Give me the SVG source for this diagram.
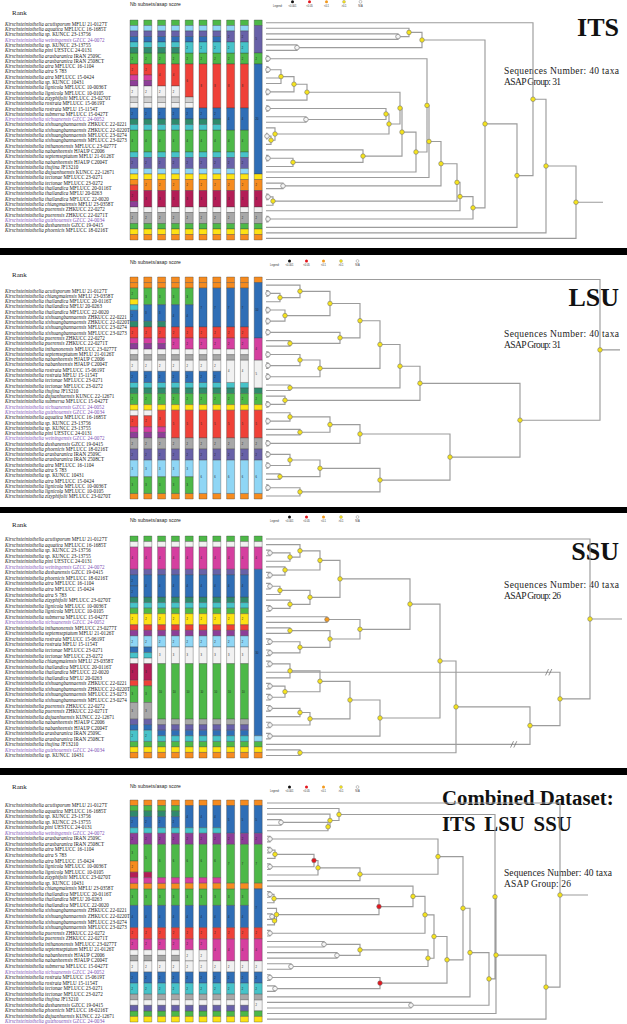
<svg xmlns="http://www.w3.org/2000/svg" xmlns:xlink="http://www.w3.org/1999/xlink" width="627" height="1024" viewBox="0 0 627 1024">
<style>
.t{font-family:"Liberation Serif",serif;font-size:5.1px;font-style:italic;fill:#1a1a1a}
.n{font-style:normal}
.pu{fill:#7d4fb5}
.rk{font-family:"Liberation Serif",serif;font-size:7px;fill:#222}
.nb{font-family:"Liberation Sans",sans-serif;font-size:5px;fill:#222}
.ti{font-family:"Liberation Serif",serif;font-weight:bold;fill:#111}
.sq{font-family:"Liberation Serif",serif;font-size:9.5px;fill:#222}
.lg{font-family:"Liberation Sans",sans-serif;font-size:2.6px;fill:#333}
.br{fill:none;stroke:#9c9c9c;stroke-width:1.15}
.bk{fill:none;stroke:#666;stroke-width:.7}
.ny{fill:#f6e41c;stroke:#6f6f6f;stroke-width:.55}
.ng{fill:#f4f4f4;stroke:#8a8a8a;stroke-width:.8}
.nr{fill:#e3161d;stroke:#6f6f6f;stroke-width:.55}
.no{fill:#f39a1e;stroke:#6f6f6f;stroke-width:.55}
.G,.LB,.SL,.B,.C,.T,.R,.M,.P,.W,.LG,.GR,.O,.Y,.CR{stroke:#3d3d3d;stroke-width:.35;vector-effect:non-scaling-stroke}
.G{fill:#4db848}.LB{fill:#8fd6f5}.SL{fill:#6861a8}.B{fill:#2f6eb6}.C{fill:#47c3c9}.T{fill:#2f8a6c}.R{fill:#ef4138}.M{fill:#d53f9f}.P{fill:#8d3e98}.W{fill:#f1f1f1}.LG{fill:#d2d2d2}.GR{fill:#a8a8a8}.O{fill:#f68b1f}.Y{fill:#fde214}.CR{fill:#b31d56}
.nm{font-family:"Liberation Sans",sans-serif;font-size:2.6px;fill:#222}
</style>
<defs>
<circle id="ny" r="2.3" class="ny"/>
<circle id="ng" r="2.3" class="ng"/>
<circle id="nr" r="2.3" class="nr"/>
<circle id="no" r="2.3" class="no"/>
<g id="legend">
<text class="lg" x="0" y="5.2">Legend:</text>
<circle cx="19.5" cy="0" r="1.5" fill="#111"/><text class="lg" x="19.5" y="5.2" text-anchor="middle">&lt;0.001</text>
<circle cx="36.5" cy="0" r="1.5" fill="#e3161d"/><text class="lg" x="36.5" y="5.2" text-anchor="middle">&lt;0.05</text>
<circle cx="53.5" cy="0" r="1.5" fill="#f39a1e"/><text class="lg" x="53.5" y="5.2" text-anchor="middle">&lt;0.1</text>
<circle cx="71" cy="0" r="1.5" fill="#f6e41c" stroke="#777" stroke-width=".3"/><text class="lg" x="71" y="5.2" text-anchor="middle">&gt;0.1</text>
<circle cx="87.5" cy="0" r="1.4" fill="#fff" stroke="#888" stroke-width=".5"/><text class="lg" x="87.5" y="5.2" text-anchor="middle">N/A</text>
</g>
<!-- ITS columns -->
<g id="ib2"><rect y="28" height="1" width="8" class="Y"/><rect y="29" height="2" width="8" class="O"/><rect y="31" height="3" width="8" class="CR"/><rect y="34" height="1" width="8" class="W"/><rect y="35" height="2" width="8" class="GR"/><rect y="37" height="1" width="8" class="G"/><rect y="38" height="1" width="8" class="Y"/><rect y="39" height="1" width="8" class="O"/>
<text class="nm" transform="translate(1.4,30.2) scale(1,.18)">2</text><text class="nm" transform="translate(1.4,32.7) scale(1,.18)">3</text><text class="nm" transform="translate(1.4,36.2) scale(1,.18)">2</text></g>
<g id="ib"><rect y="24" height="1" width="8" class="C"/><rect y="25" height="2" width="8" class="SL"/><rect y="27" height="1" width="8" class="LB"/><text class="nm" transform="translate(1.4,26.2) scale(1,.18)">2</text><use href="#ib2"/></g>
<g id="it"><rect y="0" height="1" width="8" class="G"/><rect y="1" height="1" width="8" class="LB"/><rect y="6" height="2" width="8" class="G"/><text class="nm" transform="translate(1.4,7.2) scale(1,.18)">2</text><rect y="20" height="4" width="8" class="G"/><text class="nm" transform="translate(1.4,22.2) scale(1,.18)">4</text></g>
<g id="i1"><use href="#it"/><rect y="2" height="1" width="8" class="SL"/><rect y="3" height="1" width="8" class="B"/><rect y="4" height="1" width="8" class="C"/><rect y="5" height="1" width="8" class="T"/><rect y="8" height="2" width="8" class="R"/><rect y="10" height="1" width="8" class="M"/><rect y="11" height="1" width="8" class="P"/><rect y="12" height="2" width="8" class="W"/><rect y="14" height="1" width="8" class="LG"/><rect y="15" height="1" width="8" class="W"/><rect y="16" height="2" width="8" class="B"/><rect y="18" height="1" width="8" class="T"/><rect y="19" height="1" width="8" class="C"/>
<text class="nm" transform="translate(1.4,9.2) scale(1,.18)">2</text><text class="nm" transform="translate(1.4,13.2) scale(1,.18)">2</text><text class="nm" transform="translate(1.4,17.2) scale(1,.18)">2</text>
<rect y="24" height="1" width="8" class="C"/><rect y="25" height="2" width="8" class="SL"/><rect y="27" height="1" width="8" class="LB"/><rect y="28" height="1" width="8" class="Y"/><rect y="29" height="1" width="8" class="O"/><rect y="30" height="1" width="8" class="R"/><rect y="31" height="2" width="8" class="CR"/><rect y="33" height="1" width="8" class="P"/><rect y="34" height="1" width="8" class="W"/><rect y="35" height="2" width="8" class="GR"/><rect y="37" height="1" width="8" class="G"/><rect y="38" height="1" width="8" class="Y"/><rect y="39" height="1" width="8" class="O"/>
<text class="nm" transform="translate(1.4,26.2) scale(1,.18)">2</text><text class="nm" transform="translate(1.4,32.2) scale(1,.18)">2</text><text class="nm" transform="translate(1.4,36.2) scale(1,.18)">2</text></g>
<g id="i2"><use href="#it"/><rect y="2" height="1" width="8" class="SL"/><rect y="3" height="1" width="8" class="B"/><rect y="4" height="1" width="8" class="C"/><rect y="5" height="1" width="8" class="T"/><rect y="8" height="2" width="8" class="R"/><rect y="10" height="1" width="8" class="M"/><rect y="11" height="1" width="8" class="P"/><rect y="12" height="2" width="8" class="W"/><rect y="14" height="1" width="8" class="LG"/><rect y="15" height="1" width="8" class="W"/><rect y="16" height="2" width="8" class="B"/><rect y="18" height="1" width="8" class="T"/><rect y="19" height="1" width="8" class="C"/>
<text class="nm" transform="translate(1.4,9.2) scale(1,.18)">2</text><text class="nm" transform="translate(1.4,13.2) scale(1,.18)">2</text><text class="nm" transform="translate(1.4,17.2) scale(1,.18)">2</text><use href="#ib"/></g>
<g id="i3"><use href="#it"/><rect y="2" height="1" width="8" class="SL"/><rect y="3" height="1" width="8" class="B"/><rect y="4" height="1" width="8" class="C"/><rect y="5" height="1" width="8" class="T"/><rect y="8" height="4" width="8" class="R"/><rect y="12" height="2" width="8" class="W"/><rect y="14" height="1" width="8" class="LG"/><rect y="15" height="1" width="8" class="W"/><rect y="16" height="2" width="8" class="B"/><rect y="18" height="1" width="8" class="T"/><rect y="19" height="1" width="8" class="C"/>
<text class="nm" transform="translate(1.4,10.2) scale(1,.18)">4</text><text class="nm" transform="translate(1.4,13.2) scale(1,.18)">2</text><text class="nm" transform="translate(1.4,17.2) scale(1,.18)">2</text><use href="#ib"/></g>
<g id="i5"><use href="#it"/><rect y="2" height="1" width="8" class="SL"/><rect y="3" height="1" width="8" class="B"/><rect y="4" height="2" width="8" class="C"/><rect y="8" height="6" width="8" class="R"/><rect y="14" height="1" width="8" class="LG"/><rect y="15" height="1" width="8" class="W"/><rect y="16" height="2" width="8" class="B"/><rect y="18" height="1" width="8" class="T"/><rect y="19" height="1" width="8" class="C"/>
<text class="nm" transform="translate(1.4,5.2) scale(1,.18)">2</text><text class="nm" transform="translate(1.4,11.2) scale(1,.18)">6</text><text class="nm" transform="translate(1.4,17.2) scale(1,.18)">2</text><use href="#ib"/></g>
<g id="i6"><use href="#it"/><rect y="2" height="1" width="8" class="SL"/><rect y="3" height="1" width="8" class="B"/><rect y="4" height="2" width="8" class="C"/><rect y="8" height="8" width="8" class="R"/><rect y="16" height="2" width="8" class="B"/><rect y="18" height="1" width="8" class="T"/><rect y="19" height="1" width="8" class="C"/>
<text class="nm" transform="translate(1.4,5.2) scale(1,.18)">2</text><text class="nm" transform="translate(1.4,12.2) scale(1,.18)">8</text><text class="nm" transform="translate(1.4,17.2) scale(1,.18)">2</text><use href="#ib"/></g>
<g id="i8"><use href="#it"/><rect y="2" height="2" width="8" class="SL"/><rect y="4" height="2" width="8" class="C"/><rect y="8" height="8" width="8" class="R"/><rect y="16" height="4" width="8" class="B"/>
<text class="nm" transform="translate(1.4,3.2) scale(1,.18)">2</text><text class="nm" transform="translate(1.4,5.2) scale(1,.18)">2</text><text class="nm" transform="translate(1.4,12.2) scale(1,.18)">8</text><text class="nm" transform="translate(1.4,18.2) scale(1,.18)">4</text><use href="#ib"/></g>
<g id="i10"><rect y="0" height="1" width="8" class="G"/><rect y="1" height="5" width="8" class="SL"/><rect y="6" height="2" width="8" class="G"/><rect y="8" height="20" width="8" class="B"/>
<text class="nm" transform="translate(1.4,3.7) scale(1,.18)">5</text><text class="nm" transform="translate(1.4,7.2) scale(1,.18)">2</text><text class="nm" transform="translate(1.4,18.2) scale(1,.18)">20</text><use href="#ib2"/></g>
<!-- LSU columns -->
<g id="lb"><rect y="29" height="2" width="8" class="GR"/><rect y="31" height="2" width="8" class="SL"/><rect y="39" height="1" width="8" class="O"/><text class="nm" transform="translate(1.4,30.2) scale(1,.18)">2</text><text class="nm" transform="translate(1.4,32.2) scale(1,.18)">2</text></g>
<g id="lb3"><use href="#lb"/><rect y="33" height="3" width="8" class="LB"/><rect y="36" height="3" width="8" class="G"/><text class="nm" transform="translate(1.4,34.7) scale(1,.18)">3</text><text class="nm" transform="translate(1.4,37.7) scale(1,.18)">3</text></g>
<g id="lb6"><use href="#lb"/><rect y="33" height="6" width="8" class="LB"/><text class="nm" transform="translate(1.4,36.2) scale(1,.18)">6</text></g>
<g id="lm"><rect y="13" height="1" width="8" class="W"/><rect y="14" height="1" width="8" class="GR"/><rect y="19" height="1" width="8" class="C"/><rect y="20" height="1" width="8" class="T"/><rect y="21" height="2" width="8" class="G"/><rect y="23" height="1" width="8" class="Y"/><text class="nm" transform="translate(1.4,22.2) scale(1,.18)">2</text></g>
<g id="l1"><rect y="0" height="1" width="8" class="O"/><rect y="1" height="1" width="8" class="O"/><rect y="2" height="2" width="8" class="G"/><rect y="4" height="1" width="8" class="Y"/><rect y="5" height="1" width="8" class="C"/><rect y="6" height="2" width="8" class="B"/><rect y="8" height="1" width="8" class="T"/><rect y="9" height="2" width="8" class="R"/><rect y="11" height="1" width="8" class="M"/><rect y="12" height="1" width="8" class="P"/><use href="#lm"/><rect y="15" height="2" width="8" class="W"/><rect y="17" height="2" width="8" class="B"/><rect y="24" height="1" width="8" class="W"/><rect y="25" height="2" width="8" class="R"/><rect y="27" height="1" width="8" class="M"/><rect y="28" height="1" width="8" class="P"/><use href="#lb3"/>
<text class="nm" transform="translate(1.4,3.2) scale(1,.18)">2</text><text class="nm" transform="translate(1.4,7.2) scale(1,.18)">2</text><text class="nm" transform="translate(1.4,10.2) scale(1,.18)">2</text><text class="nm" transform="translate(1.4,16.2) scale(1,.18)">2</text><text class="nm" transform="translate(1.4,18.2) scale(1,.18)">2</text><text class="nm" transform="translate(1.4,26.2) scale(1,.18)">2</text></g>
<g id="l2"><rect y="0" height="1" width="8" class="O"/><rect y="1" height="1" width="8" class="O"/><rect y="2" height="3" width="8" class="G"/><rect y="5" height="3" width="8" class="B"/><rect y="8" height="1" width="8" class="T"/><rect y="9" height="2" width="8" class="R"/><rect y="11" height="1" width="8" class="M"/><rect y="12" height="1" width="8" class="P"/><use href="#lm"/><rect y="15" height="2" width="8" class="W"/><rect y="17" height="2" width="8" class="B"/><rect y="24" height="1" width="8" class="W"/><rect y="25" height="2" width="8" class="R"/><rect y="27" height="1" width="8" class="M"/><rect y="28" height="1" width="8" class="P"/><use href="#lb3"/>
<text class="nm" transform="translate(1.4,3.7) scale(1,.18)">3</text><text class="nm" transform="translate(1.4,6.7) scale(1,.18)">3</text><text class="nm" transform="translate(1.4,10.2) scale(1,.18)">2</text><text class="nm" transform="translate(1.4,16.2) scale(1,.18)">2</text><text class="nm" transform="translate(1.4,18.2) scale(1,.18)">2</text><text class="nm" transform="translate(1.4,26.2) scale(1,.18)">2</text></g>
<g id="l3"><rect y="0" height="1" width="8" class="O"/><rect y="1" height="1" width="8" class="O"/><rect y="2" height="3" width="8" class="G"/><rect y="5" height="3" width="8" class="B"/><rect y="8" height="1" width="8" class="T"/><rect y="9" height="2" width="8" class="R"/><rect y="11" height="1" width="8" class="M"/><rect y="12" height="1" width="8" class="P"/><use href="#lm"/><rect y="15" height="2" width="8" class="W"/><rect y="17" height="2" width="8" class="B"/><rect y="24" height="3" width="8" class="R"/><rect y="27" height="1" width="8" class="M"/><rect y="28" height="1" width="8" class="P"/><use href="#lb3"/>
<text class="nm" transform="translate(1.4,3.7) scale(1,.18)">3</text><text class="nm" transform="translate(1.4,6.7) scale(1,.18)">3</text><text class="nm" transform="translate(1.4,10.2) scale(1,.18)">2</text><text class="nm" transform="translate(1.4,16.2) scale(1,.18)">2</text><text class="nm" transform="translate(1.4,18.2) scale(1,.18)">2</text><text class="nm" transform="translate(1.4,25.7) scale(1,.18)">3</text></g>
<g id="l4"><rect y="0" height="1" width="8" class="O"/><rect y="1" height="1" width="8" class="O"/><rect y="2" height="3" width="8" class="G"/><rect y="5" height="4" width="8" class="B"/><rect y="9" height="2" width="8" class="R"/><rect y="11" height="2" width="8" class="M"/><use href="#lm"/><rect y="15" height="2" width="8" class="W"/><rect y="17" height="2" width="8" class="B"/><rect y="24" height="5" width="8" class="R"/><use href="#lb3"/>
<text class="nm" transform="translate(1.4,3.7) scale(1,.18)">3</text><text class="nm" transform="translate(1.4,7.2) scale(1,.18)">4</text><text class="nm" transform="translate(1.4,10.2) scale(1,.18)">2</text><text class="nm" transform="translate(1.4,12.2) scale(1,.18)">2</text><text class="nm" transform="translate(1.4,16.2) scale(1,.18)">2</text><text class="nm" transform="translate(1.4,18.2) scale(1,.18)">2</text><text class="nm" transform="translate(1.4,26.7) scale(1,.18)">5</text></g>
<g id="l6"><rect y="0" height="1" width="8" class="O"/><rect y="1" height="1" width="8" class="O"/><rect y="2" height="7" width="8" class="B"/><rect y="9" height="2" width="8" class="R"/><rect y="11" height="2" width="8" class="M"/><use href="#lm"/><rect y="15" height="2" width="8" class="W"/><rect y="17" height="2" width="8" class="B"/><rect y="24" height="5" width="8" class="R"/><use href="#lb6"/>
<text class="nm" transform="translate(1.4,5.7) scale(1,.18)">7</text><text class="nm" transform="translate(1.4,10.2) scale(1,.18)">2</text><text class="nm" transform="translate(1.4,12.2) scale(1,.18)">2</text><text class="nm" transform="translate(1.4,16.2) scale(1,.18)">2</text><text class="nm" transform="translate(1.4,18.2) scale(1,.18)">2</text><text class="nm" transform="translate(1.4,26.7) scale(1,.18)">5</text></g>
<g id="l8"><rect y="0" height="1" width="8" class="O"/><rect y="1" height="1" width="8" class="O"/><rect y="2" height="7" width="8" class="B"/><rect y="9" height="2" width="8" class="R"/><rect y="11" height="2" width="8" class="M"/><use href="#lm"/><rect y="15" height="4" width="8" class="W"/><rect y="24" height="5" width="8" class="R"/><use href="#lb6"/>
<text class="nm" transform="translate(1.4,5.7) scale(1,.18)">7</text><text class="nm" transform="translate(1.4,10.2) scale(1,.18)">2</text><text class="nm" transform="translate(1.4,12.2) scale(1,.18)">2</text><text class="nm" transform="translate(1.4,17.2) scale(1,.18)">4</text><text class="nm" transform="translate(1.4,26.7) scale(1,.18)">5</text></g>
<g id="l10"><rect y="0" height="1" width="8" class="O"/><rect y="1" height="10" width="8" class="B"/><rect y="11" height="4" width="8" class="M"/><rect y="15" height="5" width="8" class="W"/><rect y="20" height="1" width="8" class="T"/><rect y="21" height="2" width="8" class="G"/><rect y="23" height="1" width="8" class="Y"/><rect y="24" height="5" width="8" class="R"/><use href="#lb6"/>
<text class="nm" transform="translate(1.4,6.2) scale(1,.18)">10</text><text class="nm" transform="translate(1.4,13.2) scale(1,.18)">4</text><text class="nm" transform="translate(1.4,17.7) scale(1,.18)">5</text><text class="nm" transform="translate(1.4,22.2) scale(1,.18)">2</text><text class="nm" transform="translate(1.4,26.7) scale(1,.18)">5</text></g>
<!-- SSU columns -->
<g id="st"><rect y="0" height="1" width="8" class="G"/><rect y="1" height="1" width="8" class="W"/><rect y="2" height="4" width="8" class="M"/><text class="nm" transform="translate(1.4,4.2) scale(1,.18)">4</text><rect y="37" height="1" width="8" class="G"/><rect y="38" height="1" width="8" class="Y"/><rect y="39" height="1" width="8" class="O"/></g>
<g id="sm"><rect y="6" height="1" width="8" class="SL"/><rect y="11" height="1" width="8" class="T"/><rect y="12" height="1" width="8" class="C"/><rect y="13" height="1" width="8" class="G"/><rect y="14" height="2" width="8" class="Y"/><rect y="16" height="1" width="8" class="R"/><rect y="17" height="1" width="8" class="P"/><rect y="18" height="2" width="8" class="LB"/><text class="nm" transform="translate(1.4,15.2) scale(1,.18)">2</text><text class="nm" transform="translate(1.4,19.2) scale(1,.18)">2</text></g>
<g id="sb"><rect y="20" height="1" width="8" class="B"/><rect y="21" height="1" width="8" class="C"/><rect y="22" height="1" width="8" class="W"/><rect y="23" height="3" width="8" class="CR"/><rect y="26" height="1" width="8" class="R"/><rect y="27" height="3" width="8" class="G"/><rect y="30" height="3" width="8" class="GR"/><rect y="33" height="1" width="8" class="SL"/><rect y="34" height="1" width="8" class="B"/><rect y="35" height="2" width="8" class="C"/>
<text class="nm" transform="translate(1.4,24.7) scale(1,.18)">3</text><text class="nm" transform="translate(1.4,28.7) scale(1,.18)">3</text><text class="nm" transform="translate(1.4,31.7) scale(1,.18)">3</text><text class="nm" transform="translate(1.4,36.2) scale(1,.18)">2</text></g>
<g id="s1"><use href="#st"/><use href="#sm"/><rect y="7" height="2" width="8" class="B"/><rect y="9" height="2" width="8" class="B"/><text class="nm" transform="translate(1.4,8.2) scale(1,.18)">2</text><text class="nm" transform="translate(1.4,10.2) scale(1,.18)">2</text><use href="#sb"/></g>
<g id="s2"><use href="#st"/><use href="#sm"/><rect y="7" height="4" width="8" class="B"/><text class="nm" transform="translate(1.4,9.2) scale(1,.18)">4</text><use href="#sb"/></g>
<g id="s3"><use href="#st"/><use href="#sm"/><rect y="7" height="4" width="8" class="B"/><text class="nm" transform="translate(1.4,9.2) scale(1,.18)">4</text><rect y="20" height="3" width="8" class="W"/><rect y="23" height="10" width="8" class="G"/><rect y="33" height="1" width="8" class="GR"/><rect y="34" height="1" width="8" class="SL"/><rect y="35" height="1" width="8" class="B"/><rect y="36" height="1" width="8" class="C"/><text class="nm" transform="translate(1.4,21.7) scale(1,.18)">3</text><text class="nm" transform="translate(1.4,28.2) scale(1,.18)">10</text></g>
<g id="s10"><use href="#st"/><rect y="6" height="30" width="8" class="B"/><rect y="36" height="1" width="8" class="LB"/><text class="nm" transform="translate(1.4,21.2) scale(1,.18)">30</text></g>
<!-- Combined columns -->
<g id="cb"><rect y="31" height="2" width="8" class="B"/><rect y="33" height="2" width="8" class="C"/><rect y="35" height="1" width="8" class="GR"/><rect y="38" height="1" width="8" class="G"/><rect y="39" height="1" width="8" class="Y"/><text class="nm" transform="translate(1.4,32.2) scale(1,.18)">2</text><text class="nm" transform="translate(1.4,34.2) scale(1,.18)">2</text></g>
<g id="cb1"><use href="#cb"/><rect y="36" height="1" width="8" class="W"/><rect y="37" height="1" width="8" class="SL"/></g>
<g id="cmid"><rect y="15" height="1" width="8" class="O"/><rect y="19" height="4" width="8" class="B"/><rect y="23" height="2" width="8" class="R"/><rect y="29" height="2" width="8" class="W"/><text class="nm" transform="translate(1.4,21.2) scale(1,.18)">4</text><text class="nm" transform="translate(1.4,24.2) scale(1,.18)">2</text><text class="nm" transform="translate(1.4,30.2) scale(1,.18)">2</text></g>
<g id="ctop"><rect y="0" height="1" width="8" class="O"/><rect y="1" height="1" width="8" class="G"/><rect y="2" height="1" width="8" class="T"/><rect y="3" height="2" width="8" class="B"/><rect y="5" height="1" width="8" class="C"/><rect y="6" height="2" width="8" class="P"/><rect y="16" height="3" width="8" class="G"/><rect y="25" height="2" width="8" class="M"/><rect y="27" height="1" width="8" class="W"/><rect y="28" height="1" width="8" class="GR"/><text class="nm" transform="translate(1.4,4.2) scale(1,.18)">2</text><text class="nm" transform="translate(1.4,7.2) scale(1,.18)">2</text><text class="nm" transform="translate(1.4,17.7) scale(1,.18)">3</text><text class="nm" transform="translate(1.4,26.2) scale(1,.18)">2</text><use href="#cmid"/><use href="#cb1"/></g>
<g id="c1"><use href="#ctop"/><rect y="8" height="3" width="8" class="G"/><rect y="11" height="2" width="8" class="O"/><rect y="13" height="1" width="8" class="CR"/><rect y="14" height="1" width="8" class="M"/><text class="nm" transform="translate(1.4,9.7) scale(1,.18)">3</text><text class="nm" transform="translate(1.4,12.2) scale(1,.18)">2</text></g>
<g id="c2"><use href="#ctop"/><rect y="8" height="5" width="8" class="G"/><rect y="13" height="1" width="8" class="CR"/><rect y="14" height="1" width="8" class="M"/><text class="nm" transform="translate(1.4,10.7) scale(1,.18)">5</text></g>
<g id="c3"><use href="#ctop"/><rect y="8" height="6" width="8" class="G"/><rect y="14" height="1" width="8" class="M"/><text class="nm" transform="translate(1.4,11.2) scale(1,.18)">6</text></g>
<g id="c5"><rect y="0" height="1" width="8" class="O"/><rect y="1" height="4" width="8" class="B"/><rect y="5" height="1" width="8" class="C"/><rect y="6" height="2" width="8" class="P"/><rect y="8" height="6" width="8" class="G"/><rect y="14" height="1" width="8" class="M"/><rect y="16" height="3" width="8" class="G"/><rect y="25" height="2" width="8" class="M"/><rect y="27" height="2" width="8" class="W"/><use href="#cmid"/><use href="#cb1"/>
<text class="nm" transform="translate(1.4,3.2) scale(1,.18)">4</text><text class="nm" transform="translate(1.4,7.2) scale(1,.18)">2</text><text class="nm" transform="translate(1.4,11.2) scale(1,.18)">6</text><text class="nm" transform="translate(1.4,17.7) scale(1,.18)">3</text><text class="nm" transform="translate(1.4,26.2) scale(1,.18)">2</text><text class="nm" transform="translate(1.4,28.2) scale(1,.18)">2</text></g>
<g id="c7"><rect y="0" height="1" width="8" class="O"/><rect y="1" height="4" width="8" class="B"/><rect y="5" height="1" width="8" class="C"/><rect y="6" height="2" width="8" class="P"/><rect y="8" height="6" width="8" class="G"/><rect y="14" height="1" width="8" class="M"/><rect y="16" height="3" width="8" class="G"/><rect y="25" height="4" width="8" class="M"/><use href="#cmid"/><use href="#cb1"/>
<text class="nm" transform="translate(1.4,3.2) scale(1,.18)">4</text><text class="nm" transform="translate(1.4,7.2) scale(1,.18)">2</text><text class="nm" transform="translate(1.4,11.2) scale(1,.18)">6</text><text class="nm" transform="translate(1.4,17.7) scale(1,.18)">3</text><text class="nm" transform="translate(1.4,27.2) scale(1,.18)">4</text></g>
<g id="c8"><rect y="0" height="1" width="8" class="O"/><rect y="1" height="5" width="8" class="B"/><rect y="6" height="2" width="8" class="P"/><rect y="8" height="7" width="8" class="G"/><rect y="16" height="3" width="8" class="G"/><rect y="25" height="4" width="8" class="M"/><use href="#cmid"/><use href="#cb1"/>
<text class="nm" transform="translate(1.4,3.7) scale(1,.18)">5</text><text class="nm" transform="translate(1.4,7.2) scale(1,.18)">2</text><text class="nm" transform="translate(1.4,11.7) scale(1,.18)">7</text><text class="nm" transform="translate(1.4,17.7) scale(1,.18)">3</text><text class="nm" transform="translate(1.4,27.2) scale(1,.18)">4</text></g>
<g id="c10"><rect y="0" height="1" width="8" class="O"/><rect y="1" height="5" width="8" class="B"/><rect y="6" height="2" width="8" class="P"/><rect y="8" height="7" width="8" class="G"/><rect y="15" height="1" width="8" class="O"/><rect y="16" height="7" width="8" class="B"/><rect y="23" height="2" width="8" class="R"/><rect y="25" height="4" width="8" class="M"/><rect y="29" height="2" width="8" class="W"/><rect y="36" height="2" width="8" class="W"/><use href="#cb"/>
<text class="nm" transform="translate(1.4,3.7) scale(1,.18)">5</text><text class="nm" transform="translate(1.4,7.2) scale(1,.18)">2</text><text class="nm" transform="translate(1.4,11.7) scale(1,.18)">7</text><text class="nm" transform="translate(1.4,19.7) scale(1,.18)">7</text><text class="nm" transform="translate(1.4,24.2) scale(1,.18)">2</text><text class="nm" transform="translate(1.4,27.2) scale(1,.18)">4</text><text class="nm" transform="translate(1.4,30.2) scale(1,.18)">2</text><text class="nm" transform="translate(1.4,37.2) scale(1,.18)">2</text></g>
</defs>
<rect width="627" height="1024" fill="#fff"/>
<g id="separators" fill="#000"><rect x="0" y="248" width="627" height="7"/><rect x="0" y="507" width="627" height="6"/><rect x="0" y="768" width="627" height="7"/></g>

<!-- ================= ITS ================= -->
<g id="panel-its">
<text class="rk" x="12" y="15">Rank</text>
<text class="nb" x="130" y="6">Nb subsets/asap score</text>
<use href="#legend" x="273" y="1.8"/>
<text class="ti" x="619" y="36" font-size="26" text-anchor="end">ITS</text>
<text class="sq" x="504" y="74" textLength="115" lengthAdjust="spacing">Sequences Number: 40 taxa</text>
<text class="sq" x="504" y="85" textLength="57" lengthAdjust="spacing">ASAP Group: 31</text>
<g id="its-taxa"><text class="t" x="5" y="25.7">
<tspan x="5">Kirschsteiniothelia acutisporum <tspan class="n">MFLU 21-0127T</tspan></tspan>
<tspan x="5" dy="5.3">Kirschsteiniothelia aquatica <tspan class="n">MFLUCC 16-1685T</tspan></tspan>
<tspan x="5" dy="5.3">Kirschsteiniothelia sp. <tspan class="n"> KUNCC 23-13756</tspan></tspan>
<tspan x="5" dy="5.3" class="pu">Kirschsteiniothelia weiningensis <tspan class="n">GZCC 24-0072</tspan></tspan>
<tspan x="5" dy="5.3">Kirschsteiniothelia sp. <tspan class="n"> KUNCC 23-13755</tspan></tspan>
<tspan x="5" dy="5.3">Kirschsteiniothelia pini <tspan class="n">UESTCC 24-0131</tspan></tspan>
<tspan x="5" dy="5.3">Kirschsteiniothelia arasbaranica <tspan class="n">IRAN 2509C</tspan></tspan>
<tspan x="5" dy="5.3">Kirschsteiniothelia arasbaranica <tspan class="n">IRAN 2508CT</tspan></tspan>
<tspan x="5" dy="5.3">Kirschsteiniothelia atra <tspan class="n">MFLUCC 16-1104</tspan></tspan>
<tspan x="5" dy="5.3">Kirschsteiniothelia atra <tspan class="n">S 783</tspan></tspan>
<tspan x="5" dy="5.3">Kirschsteiniothelia atra <tspan class="n">MFLUCC 15-0424</tspan></tspan>
<tspan x="5" dy="5.3">Kirschsteiniothelia sp. <tspan class="n"> KUNCC 10431</tspan></tspan>
<tspan x="5" dy="5.3">Kirschsteiniothelia lignicola <tspan class="n">MFLUCC 10-0036T</tspan></tspan>
<tspan x="5" dy="5.3">Kirschsteiniothelia lignicola <tspan class="n"> MFLUCC 10-0105</tspan></tspan>
<tspan x="5" dy="5.3">Kirschsteiniothelia zizyphifolii <tspan class="n">MFLUCC 23-0270T</tspan></tspan>
<tspan x="5" dy="5.3">Kirschsteiniothelia rostrata <tspan class="n">MFLUCC 15-0619T</tspan></tspan>
<tspan x="5" dy="5.3">Kirschsteiniothelia rostrata <tspan class="n">MFLU 15-1154T</tspan></tspan>
<tspan x="5" dy="5.3">Kirschsteiniothelia submersa <tspan class="n">MFLUCC 15-0427T</tspan></tspan>
<tspan x="5" dy="5.3" class="pu">Kirschsteiniothelia sichuanensis <tspan class="n">GZCC 24-0052</tspan></tspan>
<tspan x="5" dy="5.3">Kirschsteiniothelia xishuangbannaensis <tspan class="n">ZHKUCC 22-0221</tspan></tspan>
<tspan x="5" dy="5.3">Kirschsteiniothelia xishuangbannaensis <tspan class="n">ZHKUCC 22-0220T</tspan></tspan>
<tspan x="5" dy="5.3">Kirschsteiniothelia xishuangbannaensis <tspan class="n">MFLUCC 23-0274</tspan></tspan>
<tspan x="5" dy="5.3">Kirschsteiniothelia xishuangbannaensis <tspan class="n">MFLUCC 23-0273</tspan></tspan>
<tspan x="5" dy="5.3">Kirschsteiniothelia inthanonensis <tspan class="n">MFLUCC 23-0277T</tspan></tspan>
<tspan x="5" dy="5.3">Kirschsteiniothelia nabanheensis <tspan class="n">HJAUP C2006</tspan></tspan>
<tspan x="5" dy="5.3">Kirschsteiniothelia septemseptatum <tspan class="n">MFLU 21-0126T</tspan></tspan>
<tspan x="5" dy="5.3">Kirschsteiniothelia nabanheensis <tspan class="n">HJAUP C2004T</tspan></tspan>
<tspan x="5" dy="5.3">Kirschsteiniothelia thujina <tspan class="n">JF13210</tspan></tspan>
<tspan x="5" dy="5.3">Kirschsteiniothelia dujuanhuensis <tspan class="n">KUNCC 22-12671</tspan></tspan>
<tspan x="5" dy="5.3">Kirschsteiniothelia tectonae <tspan class="n">MFLUCC 23-0271</tspan></tspan>
<tspan x="5" dy="5.3">Kirschsteiniothelia tectonae <tspan class="n">MFLUCC 23-0272</tspan></tspan>
<tspan x="5" dy="5.3">Kirschsteiniothelia thailandica <tspan class="n">MFLUCC 20-0116T</tspan></tspan>
<tspan x="5" dy="5.3">Kirschsteiniothelia thailandica <tspan class="n">MFLU 20-0263</tspan></tspan>
<tspan x="5" dy="5.3">Kirschsteiniothelia thailandica <tspan class="n">MFLUCC 22-0020</tspan></tspan>
<tspan x="5" dy="5.3">Kirschsteiniothelia chiangmaiensis <tspan class="n">MFLU 23-0358T</tspan></tspan>
<tspan x="5" dy="5.3">Kirschsteiniothelia puerensis <tspan class="n">ZHKUCC 22-0272</tspan></tspan>
<tspan x="5" dy="5.3">Kirschsteiniothelia puerensis <tspan class="n">ZHKUCC 22-0271T</tspan></tspan>
<tspan x="5" dy="5.3" class="pu">Kirschsteiniothelia guizhouensis <tspan class="n">GZCC 24-0034</tspan></tspan>
<tspan x="5" dy="5.3">Kirschsteiniothelia dushanensis <tspan class="n">GZCC 19-0415</tspan></tspan>
<tspan x="5" dy="5.3">Kirschsteiniothelia phoenicis <tspan class="n">MFLUCC 18-0216T</tspan></tspan>
</text></g>
<g id="its-columns">
<use href="#i1" transform="translate(130,20) scale(1,5.5)"/><use href="#i2" transform="translate(143.8,20) scale(1,5.5)"/><use href="#i3" transform="translate(157.6,20) scale(1,5.5)"/><use href="#i3" transform="translate(171.4,20) scale(1,5.5)"/><use href="#i5" transform="translate(185.2,20) scale(1,5.5)"/><use href="#i6" transform="translate(199,20) scale(1,5.5)"/><use href="#i6" transform="translate(212.8,20) scale(1,5.5)"/><use href="#i8" transform="translate(226.6,20) scale(1,5.5)"/><use href="#i8" transform="translate(240.4,20) scale(1,5.5)"/><use href="#i10" transform="translate(254.2,20) scale(1,5.5)"/>
</g>
<g id="its-connectors"><path class="br" d="M266 33.8H398V39.3H266M266 28.2H409V36.6H398M266 44.8H297V50.4H266M409 32.4H422V47.6H297M266 55.9H268V61.4H266M266 66.9H268V72.5H266M268 69.7H281V83.5H266M266 78H281M266 89.1H268V94.6H266M281 76.6H294V91.9H268M294 84.2H307V100.1H266M266 105.7H268V111.2H266M266 116.7H306V122.2H266M268 108.5H386V119.5H306M266 133.3H267V138.8H266M267 136.1H271V144.4H266M266 127.8H275V140.2H271M386 114H389V134H275M307 92.2H400V124H389M266 155.4H268V160.9H266M268 158.2H293V166.5H266M266 149.9H363V162.3H293M400 108.1H402V156.1H363M402 132.1H416V172H266M268 58.7H427V152H416M427 105.4H429V177.5H266M266 183.1H283V188.6H266M429 141.5H441V185.9H283M266 194.1H268V199.7H266M268 196.9H273V205.2H266M441 163.7H457V201.1H273M457 182.4H460V210.7H266M266 216.2H268V221.8H266M460 196.6H473V219H268M422 40H485V207.8H473M485 123.9H517V227.3H266M266 22.7H533V175.6H517M533 99.2H546V232.8H266M546 166H576V238.3H266M576 202.2H603"/></g>
<g id="its-nodes">
<use href="#ng" x="398" y="36.6"/><use href="#ng" x="297" y="47.6"/><use href="#ng" x="268" y="58.7"/><use href="#ng" x="268" y="69.7"/><use href="#ng" x="268" y="91.9"/><use href="#ng" x="268" y="108.5"/><use href="#ng" x="306" y="119.5"/><use href="#ng" x="267" y="136.1"/><use href="#ng" x="268" y="158.2"/><use href="#ng" x="283" y="185.9"/><use href="#ng" x="268" y="196.9"/><use href="#ng" x="268" y="219"/>
<use href="#ny" x="409" y="32.4"/><use href="#ny" x="422" y="40"/><use href="#ny" x="281" y="76.6"/><use href="#ny" x="294" y="84.2"/><use href="#ny" x="307" y="92.2"/><use href="#ny" x="386" y="114"/><use href="#ny" x="271" y="140.2"/><use href="#ny" x="275" y="134"/><use href="#ny" x="389" y="124"/><use href="#ny" x="400" y="108.1"/><use href="#ny" x="293" y="162.3"/><use href="#ny" x="363" y="156.1"/><use href="#ny" x="402" y="132.1"/><use href="#ny" x="416" y="152"/><use href="#ny" x="427" y="105.4"/><use href="#ny" x="429" y="141.5"/><use href="#ny" x="441" y="163.7"/><use href="#ny" x="273" y="201.1"/><use href="#ny" x="457" y="182.4"/><use href="#ny" x="460" y="196.6"/><use href="#ny" x="473" y="207.8"/><use href="#ny" x="485" y="123.9"/><use href="#ny" x="517" y="175.6"/><use href="#ny" x="533" y="99.2"/><use href="#ny" x="546" y="166"/><use href="#ny" x="576" y="202.2"/>
</g>
</g>

<!-- ================= LSU ================= -->
<g id="panel-lsu">
<text class="rk" x="12" y="277">Rank</text>
<text class="nb" x="130" y="264">Nb subsets/asap score</text>
<use href="#legend" x="270" y="261"/>
<text class="ti" x="619" y="306" font-size="26" text-anchor="end">LSU</text>
<text class="sq" x="504" y="337" textLength="115" lengthAdjust="spacing">Sequences Number: 40 taxa</text>
<text class="sq" x="504" y="348" textLength="57" lengthAdjust="spacing">ASAP Group: 31</text>
<g id="lsu-taxa"><text class="t" x="5" y="292.5">
<tspan x="5">Kirschsteiniothelia acutisporum <tspan class="n">MFLU 21-0127T</tspan></tspan>
<tspan x="5" dy="5.28">Kirschsteiniothelia chiangmaiensis <tspan class="n">MFLU 23-0358T</tspan></tspan>
<tspan x="5" dy="5.28">Kirschsteiniothelia thailandica <tspan class="n">MFLUCC 20-0116T</tspan></tspan>
<tspan x="5" dy="5.28">Kirschsteiniothelia thailandica <tspan class="n">MFLU 20-0263</tspan></tspan>
<tspan x="5" dy="5.28">Kirschsteiniothelia thailandica <tspan class="n">MFLUCC 22-0020</tspan></tspan>
<tspan x="5" dy="5.28">Kirschsteiniothelia xishuangbannaensis <tspan class="n">ZHKUCC 22-0221</tspan></tspan>
<tspan x="5" dy="5.28">Kirschsteiniothelia xishuangbannaensis <tspan class="n">ZHKUCC 22-0220T</tspan></tspan>
<tspan x="5" dy="5.28">Kirschsteiniothelia xishuangbannaensis <tspan class="n">MFLUCC 23-0274</tspan></tspan>
<tspan x="5" dy="5.28">Kirschsteiniothelia xishuangbannaensis <tspan class="n">MFLUCC 23-0273</tspan></tspan>
<tspan x="5" dy="5.28">Kirschsteiniothelia puerensis <tspan class="n">ZHKUCC 22-0272</tspan></tspan>
<tspan x="5" dy="5.28">Kirschsteiniothelia puerensis <tspan class="n">ZHKUCC 22-0271T</tspan></tspan>
<tspan x="5" dy="5.28">Kirschsteiniothelia inthanonensis <tspan class="n">MFLUCC 23-0277T</tspan></tspan>
<tspan x="5" dy="5.28">Kirschsteiniothelia septemseptatum <tspan class="n">MFLU 21-0126T</tspan></tspan>
<tspan x="5" dy="5.28">Kirschsteiniothelia nabanheensis <tspan class="n">HJAUP C2006</tspan></tspan>
<tspan x="5" dy="5.28">Kirschsteiniothelia nabanheensis <tspan class="n">HJAUP C2004T</tspan></tspan>
<tspan x="5" dy="5.28">Kirschsteiniothelia rostrata <tspan class="n">MFLUCC 15-0619T</tspan></tspan>
<tspan x="5" dy="5.28">Kirschsteiniothelia rostrata <tspan class="n">MFLU 15-1154T</tspan></tspan>
<tspan x="5" dy="5.28">Kirschsteiniothelia tectonae <tspan class="n">MFLUCC 23-0271</tspan></tspan>
<tspan x="5" dy="5.28">Kirschsteiniothelia tectonae <tspan class="n">MFLUCC 23-0272</tspan></tspan>
<tspan x="5" dy="5.28">Kirschsteiniothelia thujina <tspan class="n">JF13210</tspan></tspan>
<tspan x="5" dy="5.28">Kirschsteiniothelia dujuanhuensis <tspan class="n">KUNCC 22-12671</tspan></tspan>
<tspan x="5" dy="5.28">Kirschsteiniothelia submersa <tspan class="n">MFLUCC 15-0427T</tspan></tspan>
<tspan x="5" dy="5.28" class="pu">Kirschsteiniothelia sichuanensis <tspan class="n">GZCC 24-0052</tspan></tspan>
<tspan x="5" dy="5.28" class="pu">Kirschsteiniothelia guizhouensis <tspan class="n">GZCC 24-0034</tspan></tspan>
<tspan x="5" dy="5.28">Kirschsteiniothelia aquatica <tspan class="n">MFLUCC 16-1685T</tspan></tspan>
<tspan x="5" dy="5.28">Kirschsteiniothelia sp. <tspan class="n"> KUNCC 23-13756</tspan></tspan>
<tspan x="5" dy="5.28">Kirschsteiniothelia sp. <tspan class="n"> KUNCC 23-13755</tspan></tspan>
<tspan x="5" dy="5.28">Kirschsteiniothelia pini <tspan class="n">UESTCC 24-0131</tspan></tspan>
<tspan x="5" dy="5.28" class="pu">Kirschsteiniothelia weiningensis <tspan class="n">GZCC 24-0072</tspan></tspan>
<tspan x="5" dy="5.28">Kirschsteiniothelia dushanensis <tspan class="n">GZCC 19-0415</tspan></tspan>
<tspan x="5" dy="5.28">Kirschsteiniothelia phoenicis <tspan class="n">MFLUCC 18-0216T</tspan></tspan>
<tspan x="5" dy="5.28">Kirschsteiniothelia arasbaranica <tspan class="n">IRAN 2509C</tspan></tspan>
<tspan x="5" dy="5.28">Kirschsteiniothelia arasbaranica <tspan class="n">IRAN 2508CT</tspan></tspan>
<tspan x="5" dy="5.28">Kirschsteiniothelia atra <tspan class="n">MFLUCC 16-1104</tspan></tspan>
<tspan x="5" dy="5.28">Kirschsteiniothelia atra <tspan class="n">S 783</tspan></tspan>
<tspan x="5" dy="5.28">Kirschsteiniothelia sp. <tspan class="n"> KUNCC 10431</tspan></tspan>
<tspan x="5" dy="5.28">Kirschsteiniothelia atra <tspan class="n">MFLUCC 15-0424</tspan></tspan>
<tspan x="5" dy="5.28">Kirschsteiniothelia lignicola <tspan class="n">MFLUCC 10-0036T</tspan></tspan>
<tspan x="5" dy="5.28">Kirschsteiniothelia lignicola <tspan class="n"> MFLUCC 10-0105</tspan></tspan>
<tspan x="5" dy="5.28">Kirschsteiniothelia zizyphifolii <tspan class="n">MFLUCC 23-0270T</tspan></tspan>
</text></g>
<g id="lsu-columns">
<use href="#l1" transform="translate(130,277) scale(1,5.55)"/><use href="#l2" transform="translate(143.8,277) scale(1,5.55)"/><use href="#l3" transform="translate(157.6,277) scale(1,5.55)"/><use href="#l4" transform="translate(171.4,277) scale(1,5.55)"/><use href="#l4" transform="translate(185.2,277) scale(1,5.55)"/><use href="#l6" transform="translate(199,277) scale(1,5.55)"/><use href="#l6" transform="translate(212.8,277) scale(1,5.55)"/><use href="#l8" transform="translate(226.6,277) scale(1,5.55)"/><use href="#l8" transform="translate(240.4,277) scale(1,5.55)"/><use href="#l10" transform="translate(254.2,277) scale(1,5.55)"/>
</g>
<g id="lsu-connectors"><path class="br" d="M266 290.6H268V296.2H266M268 293.4H280V301.7H266M266 285.1H300V297.6H280M266 307.3H268V312.8H266M266 318.4H268V323.9H266M268 310H285V321.1H268M300 291.3H330V315.6H285M266 329.5H268V335H266M266 340.6H290V346.1H266M268 332.3H340V343.4H290M330 303.5H360V337.8H340M266 351.7H268V357.2H266M266 362.8H268V368.3H266M268 354.5H300V365.6H268M266 373.9H268V379.4H266M300 360H320V376.7H268M360 320.7H380V368.3H320M266 385H290V390.5H266M380 344.5H400V387.8H290M266 401.6H268V407.2H266M266 396.1H285V404.4H268M400 366.2H420V400.3H285M266 418.3H268V423.8H266M266 412.7H290V421.1H268M266 429.4H300V434.9H266M290 416.9H330V432.2H300M266 440.5H268V446H266M330 424.6H360V443.3H268M266 451.6H268V457.1H266M266 462.7H268V468.2H266M268 454.4H290V465.5H268M266 473.8H280V479.3H266M290 460H320V476.6H280M266 484.9H268V490.4H266M268 487.7H300V496H266M320 468.3H380V491.9H300M360 434H450V480.1H380M420 383.3H520V457.1H450M266 279.5H600V420.2H520M600 349.9H620"/></g>
<g id="lsu-nodes">
<use href="#ng" x="268" y="293.4"/><use href="#ng" x="268" y="310"/><use href="#ng" x="268" y="321.1"/><use href="#ng" x="268" y="332.3"/><use href="#ng" x="268" y="354.5"/><use href="#ng" x="268" y="365.6"/><use href="#ng" x="268" y="376.7"/><use href="#ng" x="268" y="404.4"/><use href="#ng" x="268" y="421.1"/><use href="#ng" x="268" y="443.3"/><use href="#ng" x="268" y="454.4"/><use href="#ng" x="268" y="465.5"/><use href="#ng" x="268" y="487.7"/>
<use href="#ny" x="280" y="297.6"/><use href="#ny" x="300" y="291.3"/><use href="#ny" x="285" y="315.6"/><use href="#ny" x="330" y="303.5"/><use href="#ny" x="290" y="343.4"/><use href="#ny" x="340" y="337.8"/><use href="#ny" x="360" y="320.7"/><use href="#ny" x="300" y="360"/><use href="#ny" x="320" y="368.3"/><use href="#ny" x="380" y="344.5"/><use href="#ny" x="290" y="387.8"/><use href="#ny" x="400" y="366.2"/><use href="#ny" x="285" y="400.3"/><use href="#ny" x="420" y="383.3"/><use href="#ny" x="290" y="416.9"/><use href="#ny" x="300" y="432.2"/><use href="#ny" x="330" y="424.6"/><use href="#ny" x="360" y="434"/><use href="#ny" x="290" y="460"/><use href="#ny" x="280" y="476.6"/><use href="#ny" x="320" y="468.3"/><use href="#ny" x="300" y="491.9"/><use href="#ny" x="380" y="480.1"/><use href="#ny" x="450" y="457.1"/><use href="#ny" x="520" y="420.2"/><use href="#ny" x="600" y="349.9"/>
</g>
</g>

<!-- ================= SSU ================= -->
<g id="panel-ssu">
<text class="rk" x="12" y="527">Rank</text>
<text class="nb" x="130" y="522">Nb subsets/asap score</text>
<use href="#legend" x="270" y="517"/>
<text class="ti" x="619" y="560" font-size="26" text-anchor="end">SSU</text>
<text class="sq" x="504" y="588" textLength="115" lengthAdjust="spacing">Sequences Number: 40 taxa</text>
<text class="sq" x="504" y="599" textLength="57" lengthAdjust="spacing">ASAP Group: 26</text>
<g id="ssu-taxa"><text class="t" x="5" y="541">
<tspan x="5">Kirschsteiniothelia acutisporum <tspan class="n">MFLU 21-0127T</tspan></tspan>
<tspan x="5" dy="5.55">Kirschsteiniothelia aquatica <tspan class="n">MFLUCC 16-1685T</tspan></tspan>
<tspan x="5" dy="5.55">Kirschsteiniothelia sp. <tspan class="n"> KUNCC 23-13756</tspan></tspan>
<tspan x="5" dy="5.55">Kirschsteiniothelia sp. <tspan class="n"> KUNCC 23-13755</tspan></tspan>
<tspan x="5" dy="5.55">Kirschsteiniothelia pini <tspan class="n">UESTCC 24-0131</tspan></tspan>
<tspan x="5" dy="5.55" class="pu">Kirschsteiniothelia weiningensis <tspan class="n">GZCC 24-0072</tspan></tspan>
<tspan x="5" dy="5.55">Kirschsteiniothelia dushanensis <tspan class="n">GZCC 19-0415</tspan></tspan>
<tspan x="5" dy="5.55">Kirschsteiniothelia phoenicis <tspan class="n">MFLUCC 18-0216T</tspan></tspan>
<tspan x="5" dy="5.55">Kirschsteiniothelia atra <tspan class="n">MFLUCC 16-1104</tspan></tspan>
<tspan x="5" dy="5.55">Kirschsteiniothelia atra <tspan class="n">MFLUCC 15-0424</tspan></tspan>
<tspan x="5" dy="5.55">Kirschsteiniothelia atra <tspan class="n">S 783</tspan></tspan>
<tspan x="5" dy="5.55">Kirschsteiniothelia zizyphifolii <tspan class="n">MFLUCC 23-0270T</tspan></tspan>
<tspan x="5" dy="5.55">Kirschsteiniothelia lignicola <tspan class="n">MFLUCC 10-0036T</tspan></tspan>
<tspan x="5" dy="5.55">Kirschsteiniothelia lignicola <tspan class="n"> MFLUCC 10-0105</tspan></tspan>
<tspan x="5" dy="5.55">Kirschsteiniothelia submersa <tspan class="n">MFLUCC 15-0427T</tspan></tspan>
<tspan x="5" dy="5.55" class="pu">Kirschsteiniothelia sichuanensis <tspan class="n">GZCC 24-0052</tspan></tspan>
<tspan x="5" dy="5.55">Kirschsteiniothelia inthanonensis <tspan class="n">MFLUCC 23-0277T</tspan></tspan>
<tspan x="5" dy="5.55">Kirschsteiniothelia septemseptatum <tspan class="n">MFLU 21-0126T</tspan></tspan>
<tspan x="5" dy="5.55">Kirschsteiniothelia rostrata <tspan class="n">MFLUCC 15-0619T</tspan></tspan>
<tspan x="5" dy="5.55">Kirschsteiniothelia rostrata <tspan class="n">MFLU 15-1154T</tspan></tspan>
<tspan x="5" dy="5.55">Kirschsteiniothelia tectonae <tspan class="n">MFLUCC 23-0271</tspan></tspan>
<tspan x="5" dy="5.55">Kirschsteiniothelia tectonae <tspan class="n">MFLUCC 23-0272</tspan></tspan>
<tspan x="5" dy="5.55">Kirschsteiniothelia chiangmaiensis <tspan class="n">MFLU 23-0358T</tspan></tspan>
<tspan x="5" dy="5.55">Kirschsteiniothelia thailandica <tspan class="n">MFLUCC 20-0116T</tspan></tspan>
<tspan x="5" dy="5.55">Kirschsteiniothelia thailandica <tspan class="n">MFLUCC 22-0020</tspan></tspan>
<tspan x="5" dy="5.55">Kirschsteiniothelia thailandica <tspan class="n">MFLU 20-0263</tspan></tspan>
<tspan x="5" dy="5.55">Kirschsteiniothelia xishuangbannaensis <tspan class="n">ZHKUCC 22-0221</tspan></tspan>
<tspan x="5" dy="5.55">Kirschsteiniothelia xishuangbannaensis <tspan class="n">ZHKUCC 22-0220T</tspan></tspan>
<tspan x="5" dy="5.55">Kirschsteiniothelia xishuangbannaensis <tspan class="n">MFLUCC 23-0273</tspan></tspan>
<tspan x="5" dy="5.55">Kirschsteiniothelia xishuangbannaensis <tspan class="n">MFLUCC 23-0274</tspan></tspan>
<tspan x="5" dy="5.55">Kirschsteiniothelia puerensis <tspan class="n">ZHKUCC 22-0272</tspan></tspan>
<tspan x="5" dy="5.55">Kirschsteiniothelia puerensis <tspan class="n">ZHKUCC 22-0271T</tspan></tspan>
<tspan x="5" dy="5.55">Kirschsteiniothelia dujuanhuensis <tspan class="n">KUNCC 22-12671</tspan></tspan>
<tspan x="5" dy="5.55">Kirschsteiniothelia nabanheensis <tspan class="n">HJAUP C2006</tspan></tspan>
<tspan x="5" dy="5.55">Kirschsteiniothelia nabanheensis <tspan class="n">HJAUP C2004T</tspan></tspan>
<tspan x="5" dy="5.55">Kirschsteiniothelia arasbaranica <tspan class="n">IRAN 2509C</tspan></tspan>
<tspan x="5" dy="5.55">Kirschsteiniothelia arasbaranica <tspan class="n">IRAN 2508CT</tspan></tspan>
<tspan x="5" dy="5.55">Kirschsteiniothelia thujina <tspan class="n">JF13210</tspan></tspan>
<tspan x="5" dy="5.55" class="pu">Kirschsteiniothelia guizhouensis <tspan class="n">GZCC 24-0034</tspan></tspan>
<tspan x="5" dy="5.55">Kirschsteiniothelia sp. <tspan class="n"> KUNCC 10431</tspan></tspan>
</text></g>
<g id="ssu-columns">
<use href="#s1" transform="translate(130,536) scale(1,5.55)"/><use href="#s2" transform="translate(143.8,536) scale(1,5.55)"/><use href="#s3" transform="translate(157.6,536) scale(1,5.55)"/><use href="#s3" transform="translate(171.4,536) scale(1,5.55)"/><use href="#s3" transform="translate(185.2,536) scale(1,5.55)"/><use href="#s3" transform="translate(199,536) scale(1,5.55)"/><use href="#s3" transform="translate(212.8,536) scale(1,5.55)"/><use href="#s3" transform="translate(226.6,536) scale(1,5.55)"/><use href="#s3" transform="translate(240.4,536) scale(1,5.55)"/><use href="#s10" transform="translate(254.2,536) scale(1,5.55)"/>
</g>
<g id="ssu-connectors"><path class="br" d="M266 550.1H270V555.7H266M270 552.9H290V561.2H266M266 544.6H300V557.1H290M266 572.3H270V577.9H266M266 566.8H285V575.1H270M300 550.8H320V570H285M266 583.4H270V589H266M270 586.2H280V594.5H266M266 605.6H270V611.2H266M266 600.1H290V608.4H270M280 590.4H310V604.3H290M320 560.4H340V597.3H310M266 616.7H327V622.3H266M266 627.8H290V633.4H266M266 638.9H270V644.5H266M266 650H270V655.6H266M270 641.7H300V652.8H270M290 630.6H330V647.3H300M327 619.5H360V639H330M340 578.9H410V629.3H360M266 661.1H270V666.7H266M270 663.9H290V677.8H266M266 683.3H270V688.9H266M266 694.4H270V700H266M270 686.1H285V697.2H270M290 670.9H320V691.7H285M266 705.5H270V711.1H266M270 708.3H300V716.6H266M266 722.2H270V727.7H266M300 712.5H310V725H270M320 681.3H350V718.8H310M266 733.3H270V738.8H266M350 700H380V736.1H270M410 604.1H440V718H380M266 749.9H300V755.5H266M440 661H456V752.7H300M456 706.9H530V744.4H266M530 725.6H560V672.2H266M560 698.9H590V539H266M590 619H622"/>
<path class="bk" d="M510.5 747.6L513.5 741.2M513.8 747.6L516.8 741.2M545.5 675.4L548.5 669M548.8 675.4L551.8 669"/></g>
<g id="ssu-nodes">
<use href="#ng" x="270" y="552.9"/><use href="#ng" x="270" y="575.1"/><use href="#ng" x="270" y="586.2"/><use href="#ng" x="270" y="608.4"/><use href="#ng" x="270" y="641.7"/><use href="#ng" x="270" y="652.8"/><use href="#ng" x="270" y="663.9"/><use href="#ng" x="270" y="686.1"/><use href="#ng" x="270" y="697.2"/><use href="#ng" x="270" y="708.3"/><use href="#ng" x="270" y="725"/><use href="#ng" x="270" y="736.1"/>
<use href="#no" x="327" y="619.5"/>
<use href="#ny" x="290" y="557.1"/><use href="#ny" x="300" y="550.8"/><use href="#ny" x="285" y="570"/><use href="#ny" x="320" y="560.4"/><use href="#ny" x="280" y="590.4"/><use href="#ny" x="290" y="604.3"/><use href="#ny" x="310" y="597.3"/><use href="#ny" x="340" y="578.9"/><use href="#ny" x="290" y="630.6"/><use href="#ny" x="300" y="647.3"/><use href="#ny" x="330" y="639"/><use href="#ny" x="360" y="629.3"/><use href="#ny" x="410" y="604.1"/><use href="#ny" x="290" y="670.9"/><use href="#ny" x="285" y="691.7"/><use href="#ny" x="320" y="681.3"/><use href="#ny" x="300" y="712.5"/><use href="#ny" x="310" y="718.8"/><use href="#ny" x="350" y="700"/><use href="#ny" x="380" y="718"/><use href="#ny" x="440" y="661"/><use href="#ny" x="300" y="752.7"/><use href="#ny" x="456" y="706.9"/><use href="#ny" x="530" y="725.6"/><use href="#ny" x="560" y="698.9"/><use href="#ny" x="590" y="619"/>
</g>
</g>

<!-- ================= Combined ================= -->
<g id="panel-combined">
<text class="rk" x="12" y="789">Rank</text>
<text class="nb" x="130" y="788">Nb subsets/asap score</text>
<use href="#legend" x="270" y="787"/>
<text class="ti" x="442" y="805" font-size="20.8">Combined Dataset:</text>
<text class="ti" x="442" y="831" font-size="20.8" word-spacing="3.6">ITS LSU SSU</text>
<text class="sq" x="504" y="876" textLength="108" lengthAdjust="spacing">Sequences Number: 40 taxa</text>
<text class="sq" x="504" y="887" textLength="67" lengthAdjust="spacing">ASAP Group: 26</text>
<g id="combined-taxa"><text class="t" x="5" y="807">
<tspan x="5">Kirschsteiniothelia acutisporum <tspan class="n">MFLU 21-0127T</tspan></tspan>
<tspan x="5" dy="5.55">Kirschsteiniothelia aquatica <tspan class="n">MFLUCC 16-1685T</tspan></tspan>
<tspan x="5" dy="5.55">Kirschsteiniothelia sp. <tspan class="n"> KUNCC 23-13756</tspan></tspan>
<tspan x="5" dy="5.55">Kirschsteiniothelia sp. <tspan class="n"> KUNCC 23-13755</tspan></tspan>
<tspan x="5" dy="5.55">Kirschsteiniothelia pini <tspan class="n">UESTCC 24-0131</tspan></tspan>
<tspan x="5" dy="5.55" class="pu">Kirschsteiniothelia weiningensis <tspan class="n">GZCC 24-0072</tspan></tspan>
<tspan x="5" dy="5.55">Kirschsteiniothelia arasbaranica <tspan class="n">IRAN 2509C</tspan></tspan>
<tspan x="5" dy="5.55">Kirschsteiniothelia arasbaranica <tspan class="n">IRAN 2508CT</tspan></tspan>
<tspan x="5" dy="5.55">Kirschsteiniothelia atra <tspan class="n">MFLUCC 16-1104</tspan></tspan>
<tspan x="5" dy="5.55">Kirschsteiniothelia atra <tspan class="n">S 783</tspan></tspan>
<tspan x="5" dy="5.55">Kirschsteiniothelia atra <tspan class="n">MFLUCC 15-0424</tspan></tspan>
<tspan x="5" dy="5.55">Kirschsteiniothelia lignicola <tspan class="n">MFLUCC 10-0036T</tspan></tspan>
<tspan x="5" dy="5.55">Kirschsteiniothelia lignicola <tspan class="n"> MFLUCC 10-0105</tspan></tspan>
<tspan x="5" dy="5.55">Kirschsteiniothelia zizyphifolii <tspan class="n">MFLUCC 23-0270T</tspan></tspan>
<tspan x="5" dy="5.55">Kirschsteiniothelia sp. <tspan class="n"> KUNCC 10431</tspan></tspan>
<tspan x="5" dy="5.55">Kirschsteiniothelia chiangmaiensis <tspan class="n">MFLU 23-0358T</tspan></tspan>
<tspan x="5" dy="5.55">Kirschsteiniothelia thailandica <tspan class="n">MFLUCC 20-0116T</tspan></tspan>
<tspan x="5" dy="5.55">Kirschsteiniothelia thailandica <tspan class="n">MFLU 20-0263</tspan></tspan>
<tspan x="5" dy="5.55">Kirschsteiniothelia thailandica <tspan class="n">MFLUCC 22-0020</tspan></tspan>
<tspan x="5" dy="5.55">Kirschsteiniothelia xishuangbannaensis <tspan class="n">ZHKUCC 22-0221</tspan></tspan>
<tspan x="5" dy="5.55">Kirschsteiniothelia xishuangbannaensis <tspan class="n">ZHKUCC 22-0220T</tspan></tspan>
<tspan x="5" dy="5.55">Kirschsteiniothelia xishuangbannaensis <tspan class="n">MFLUCC 23-0274</tspan></tspan>
<tspan x="5" dy="5.55">Kirschsteiniothelia xishuangbannaensis <tspan class="n">MFLUCC 23-0273</tspan></tspan>
<tspan x="5" dy="5.55">Kirschsteiniothelia puerensis <tspan class="n">ZHKUCC 22-0272</tspan></tspan>
<tspan x="5" dy="5.55">Kirschsteiniothelia puerensis <tspan class="n">ZHKUCC 22-0271T</tspan></tspan>
<tspan x="5" dy="5.55">Kirschsteiniothelia inthanonensis <tspan class="n">MFLUCC 23-0277T</tspan></tspan>
<tspan x="5" dy="5.55">Kirschsteiniothelia septemseptatum <tspan class="n">MFLU 21-0126T</tspan></tspan>
<tspan x="5" dy="5.55">Kirschsteiniothelia nabanheensis <tspan class="n">HJAUP C2006</tspan></tspan>
<tspan x="5" dy="5.55">Kirschsteiniothelia nabanheensis <tspan class="n">HJAUP C2004T</tspan></tspan>
<tspan x="5" dy="5.55">Kirschsteiniothelia submersa <tspan class="n">MFLUCC 15-0427T</tspan></tspan>
<tspan x="5" dy="5.55" class="pu">Kirschsteiniothelia sichuanensis <tspan class="n">GZCC 24-0052</tspan></tspan>
<tspan x="5" dy="5.55">Kirschsteiniothelia rostrata <tspan class="n">MFLUCC 15-0619T</tspan></tspan>
<tspan x="5" dy="5.55">Kirschsteiniothelia rostrata <tspan class="n">MFLU 15-1154T</tspan></tspan>
<tspan x="5" dy="5.55">Kirschsteiniothelia tectonae <tspan class="n">MFLUCC 23-0271</tspan></tspan>
<tspan x="5" dy="5.55">Kirschsteiniothelia tectonae <tspan class="n">MFLUCC 23-0272</tspan></tspan>
<tspan x="5" dy="5.55">Kirschsteiniothelia thujina <tspan class="n">JF13210</tspan></tspan>
<tspan x="5" dy="5.55">Kirschsteiniothelia dushanensis <tspan class="n">GZCC 19-0415</tspan></tspan>
<tspan x="5" dy="5.55">Kirschsteiniothelia phoenicis <tspan class="n">MFLUCC 18-0216T</tspan></tspan>
<tspan x="5" dy="5.55">Kirschsteiniothelia dujuanhuensis <tspan class="n">KUNCC 22-12671</tspan></tspan>
<tspan x="5" dy="5.55" class="pu">Kirschsteiniothelia guizhouensis <tspan class="n">GZCC 24-0034</tspan></tspan>
</text></g>
<g id="combined-columns">
<use href="#c1" transform="translate(130,800) scale(1,5.55)"/><use href="#c2" transform="translate(143.8,800) scale(1,5.55)"/><use href="#c3" transform="translate(157.6,800) scale(1,5.55)"/><use href="#c3" transform="translate(171.4,800) scale(1,5.55)"/><use href="#c5" transform="translate(185.2,800) scale(1,5.55)"/><use href="#c5" transform="translate(199,800) scale(1,5.55)"/><use href="#c7" transform="translate(212.8,800) scale(1,5.55)"/><use href="#c8" transform="translate(226.6,800) scale(1,5.55)"/><use href="#c8" transform="translate(240.4,800) scale(1,5.55)"/><use href="#c10" transform="translate(254.2,800) scale(1,5.55)"/>
</g>
<g id="combined-connectors"><path class="br" d="M267 819.6H281V825.2H267M281 822.4H328V830.7H267M267 814.1H330V826.8H328M267 808.5H339V820.5H330M267 836.2H270V841.8H267M267 847.3H270V852.9H267M270 850.1H275V858.4H267M267 863.9H270V869.5H267M275 854.3H314V866.7H270M314 860.5H318V875H267M318 867.8H360V880.6H267M270 839H438V874.2H360M267 891.6H270V897.2H267M270 894.4H274V902.7H267M267 913.8H272V919.3H267M272 916.6H274.5V924.9H267M267 908.3H276.5V920.8H274.5M274 898.6H379V914.6H276.5M267 886.1H413V906.6H379M267 930.4H270V936H267M413 896.4H425V933.2H270M267 941.5H324V947H267M267 952.6H337V958.1H267M324 944.3H360V955.4H337M267 963.7H291V969.2H267M360 949.9H428V966.5H291M425 914.8H434V958.2H428M267 974.7H270V980.3H267M267 985.8H275V991.4H267M270 977.5H380V988.6H275M434 936.5H447V983.1H380M438 856.6H463V959.8H447M463 908.2H470V996.9H267M267 1002.4H411V1008H267M470 952.6H489V1005.2H411M339 814.5H495V978.9H489M495 896.7H496V1013.5H267M496 955.1H546V1019.1H267M267 803H560V987.1H546M560 895H588"/></g>
<g id="combined-nodes">
<use href="#ng" x="281" y="822.4"/><use href="#ng" x="270" y="839"/><use href="#ng" x="270" y="850.1"/><use href="#ng" x="270" y="866.7"/><use href="#ng" x="270" y="894.4"/><use href="#ng" x="272" y="916.6"/><use href="#ng" x="270" y="933.2"/><use href="#ng" x="324" y="944.3"/><use href="#ng" x="337" y="955.4"/><use href="#ng" x="291" y="966.5"/><use href="#ng" x="270" y="977.5"/><use href="#ng" x="275" y="988.6"/><use href="#ng" x="411" y="1005.2"/>
<use href="#nr" x="314" y="860.5"/><use href="#nr" x="379" y="906.6"/><use href="#nr" x="380" y="983.1"/>
<use href="#ny" x="328" y="826.8"/><use href="#ny" x="330" y="820.5"/><use href="#ny" x="339" y="814.5"/><use href="#ny" x="275" y="854.3"/><use href="#ny" x="318" y="867.8"/><use href="#ny" x="360" y="874.2"/><use href="#ny" x="438" y="856.6"/><use href="#ny" x="274" y="898.6"/><use href="#ny" x="274.5" y="920.8"/><use href="#ny" x="276.5" y="914.6"/><use href="#ny" x="413" y="896.4"/><use href="#ny" x="425" y="914.8"/><use href="#ny" x="360" y="949.9"/><use href="#ny" x="428" y="958.2"/><use href="#ny" x="434" y="936.5"/><use href="#ny" x="447" y="959.8"/><use href="#ny" x="463" y="908.2"/><use href="#ny" x="470" y="952.6"/><use href="#ny" x="489" y="978.9"/><use href="#ny" x="495" y="896.7"/><use href="#ny" x="496" y="955.1"/><use href="#ny" x="546" y="987.1"/><use href="#ny" x="560" y="895"/>
</g>
</g>
</svg>
